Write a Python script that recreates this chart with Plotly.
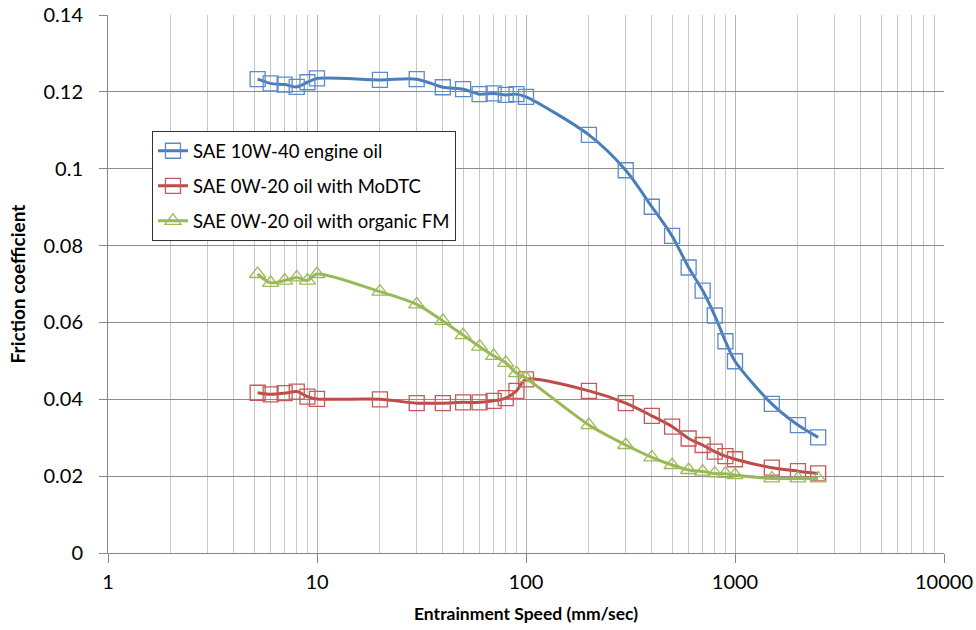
import plotly.graph_objects as go

speed = [5.2, 6, 7, 8, 9, 10, 20, 30, 40, 50, 60, 70, 80, 90, 100,
         200, 300, 400, 500, 600, 700, 800, 900, 1000, 1500, 2000, 2500]

oil_10w40 = [0.1233, 0.1222, 0.1219, 0.1213, 0.1225, 0.1235, 0.1231, 0.1233, 0.1212, 0.1207,
             0.1194, 0.1196, 0.1192, 0.1194, 0.1187,
             0.1088, 0.0996, 0.0901, 0.0825, 0.0743, 0.0683, 0.0618, 0.0551, 0.0499,
             0.0388, 0.0333, 0.0301]

oil_modtc = [0.0417, 0.0413, 0.0416, 0.0420, 0.0407, 0.0401, 0.0400, 0.0390, 0.0390, 0.0392,
             0.0392, 0.0396, 0.0403, 0.0422, 0.0452,
             0.0422, 0.0390, 0.0357, 0.0329, 0.0298, 0.0281, 0.0264, 0.0252, 0.0244,
             0.0222, 0.0213, 0.0207]

oil_ofm = [0.0726, 0.0703, 0.0709, 0.0717, 0.0709, 0.0726, 0.0680, 0.0647, 0.0604, 0.0567,
           0.0537, 0.0513, 0.0495, 0.0468, 0.0455,
           0.0333, 0.0281, 0.0249, 0.0229, 0.0216, 0.0212, 0.0207, 0.0206, 0.0203,
           0.0194, 0.0194, 0.0194]

names = ["SAE 10W-40 engine oil", "SAE 0W-20 oil with MoDTC", "SAE 0W-20 oil with organic FM"]
series = [oil_10w40, oil_modtc, oil_ofm]
line_colors = ["#4A7EBB", "#BE4B48", "#98B954"]
marker_colors = ["#5B8CC8", "#C55A57", "#9BBB59"]
symbols = ["square-open", "square-open", "triangle-up-open"]
sizes = [15, 15, 14]

FONT = "Lato"

fig = go.Figure()
for i, (nm, ys) in enumerate(zip(names, series)):
    fig.add_trace(go.Scatter(
        x=speed, y=ys, name=nm, mode="lines+markers",
        line=dict(color=line_colors[i], width=3, shape="spline", smoothing=0.8),
        marker=dict(symbol=symbols[i], size=sizes[i], color=marker_colors[i],
                    line=dict(width=1.3, color=marker_colors[i])),
        legendgroup=str(i),
    ))

fig.update_layout(
    width=976, height=630,
    margin=dict(l=108, r=32, t=15, b=77),
    paper_bgcolor="white", plot_bgcolor="white",
    font=dict(family=FONT, size=20, color="#000000"),
    showlegend=True,
    legend=dict(
        x=0.0526, y=0.784, xanchor="left", yanchor="top",
        bgcolor="white", bordercolor="#333333", borderwidth=1,
        font=dict(family=FONT, size=18.5, color="#000000"),
        tracegroupgap=8, traceorder="grouped",
    ),
    xaxis=dict(
        type="log", range=[0, 4], automargin=False,
        tickvals=[1, 10, 100, 1000, 10000], ticktext=["1", "10", "100", "1000", "10000"],
        showgrid=True, gridcolor="#B4B4B4", gridwidth=1,
        minor=dict(dtick="D1", showgrid=True, gridcolor="#C6C6C6", gridwidth=1,
                   ticks=""),
        showline=True, linecolor="#868686", linewidth=1, mirror=False,
        ticks="outside", ticklen=9, tickcolor="#868686", ticklabelstandoff=2,
        zeroline=False,
        title=dict(text="<b>Entrainment Speed (mm/sec)</b>", font=dict(family=FONT, size=17.5)),
    ),
    yaxis=dict(
        range=[0, 0.14], dtick=0.02, tick0=0, automargin=False,
        showgrid=True, gridcolor="#8C8C8C", gridwidth=1,
        showline=True, linecolor="#868686", linewidth=1,
        ticks="outside", ticklen=8, tickcolor="#868686", ticklabelstandoff=12,
        zeroline=False,
        title=dict(text="<b>Friction coefficient</b>", font=dict(family=FONT, size=19), standoff=12),
    ),
)

fig.write_html("out.html", config={"displayModeBar": False},
               post_script="document.body.style.margin='0';")
